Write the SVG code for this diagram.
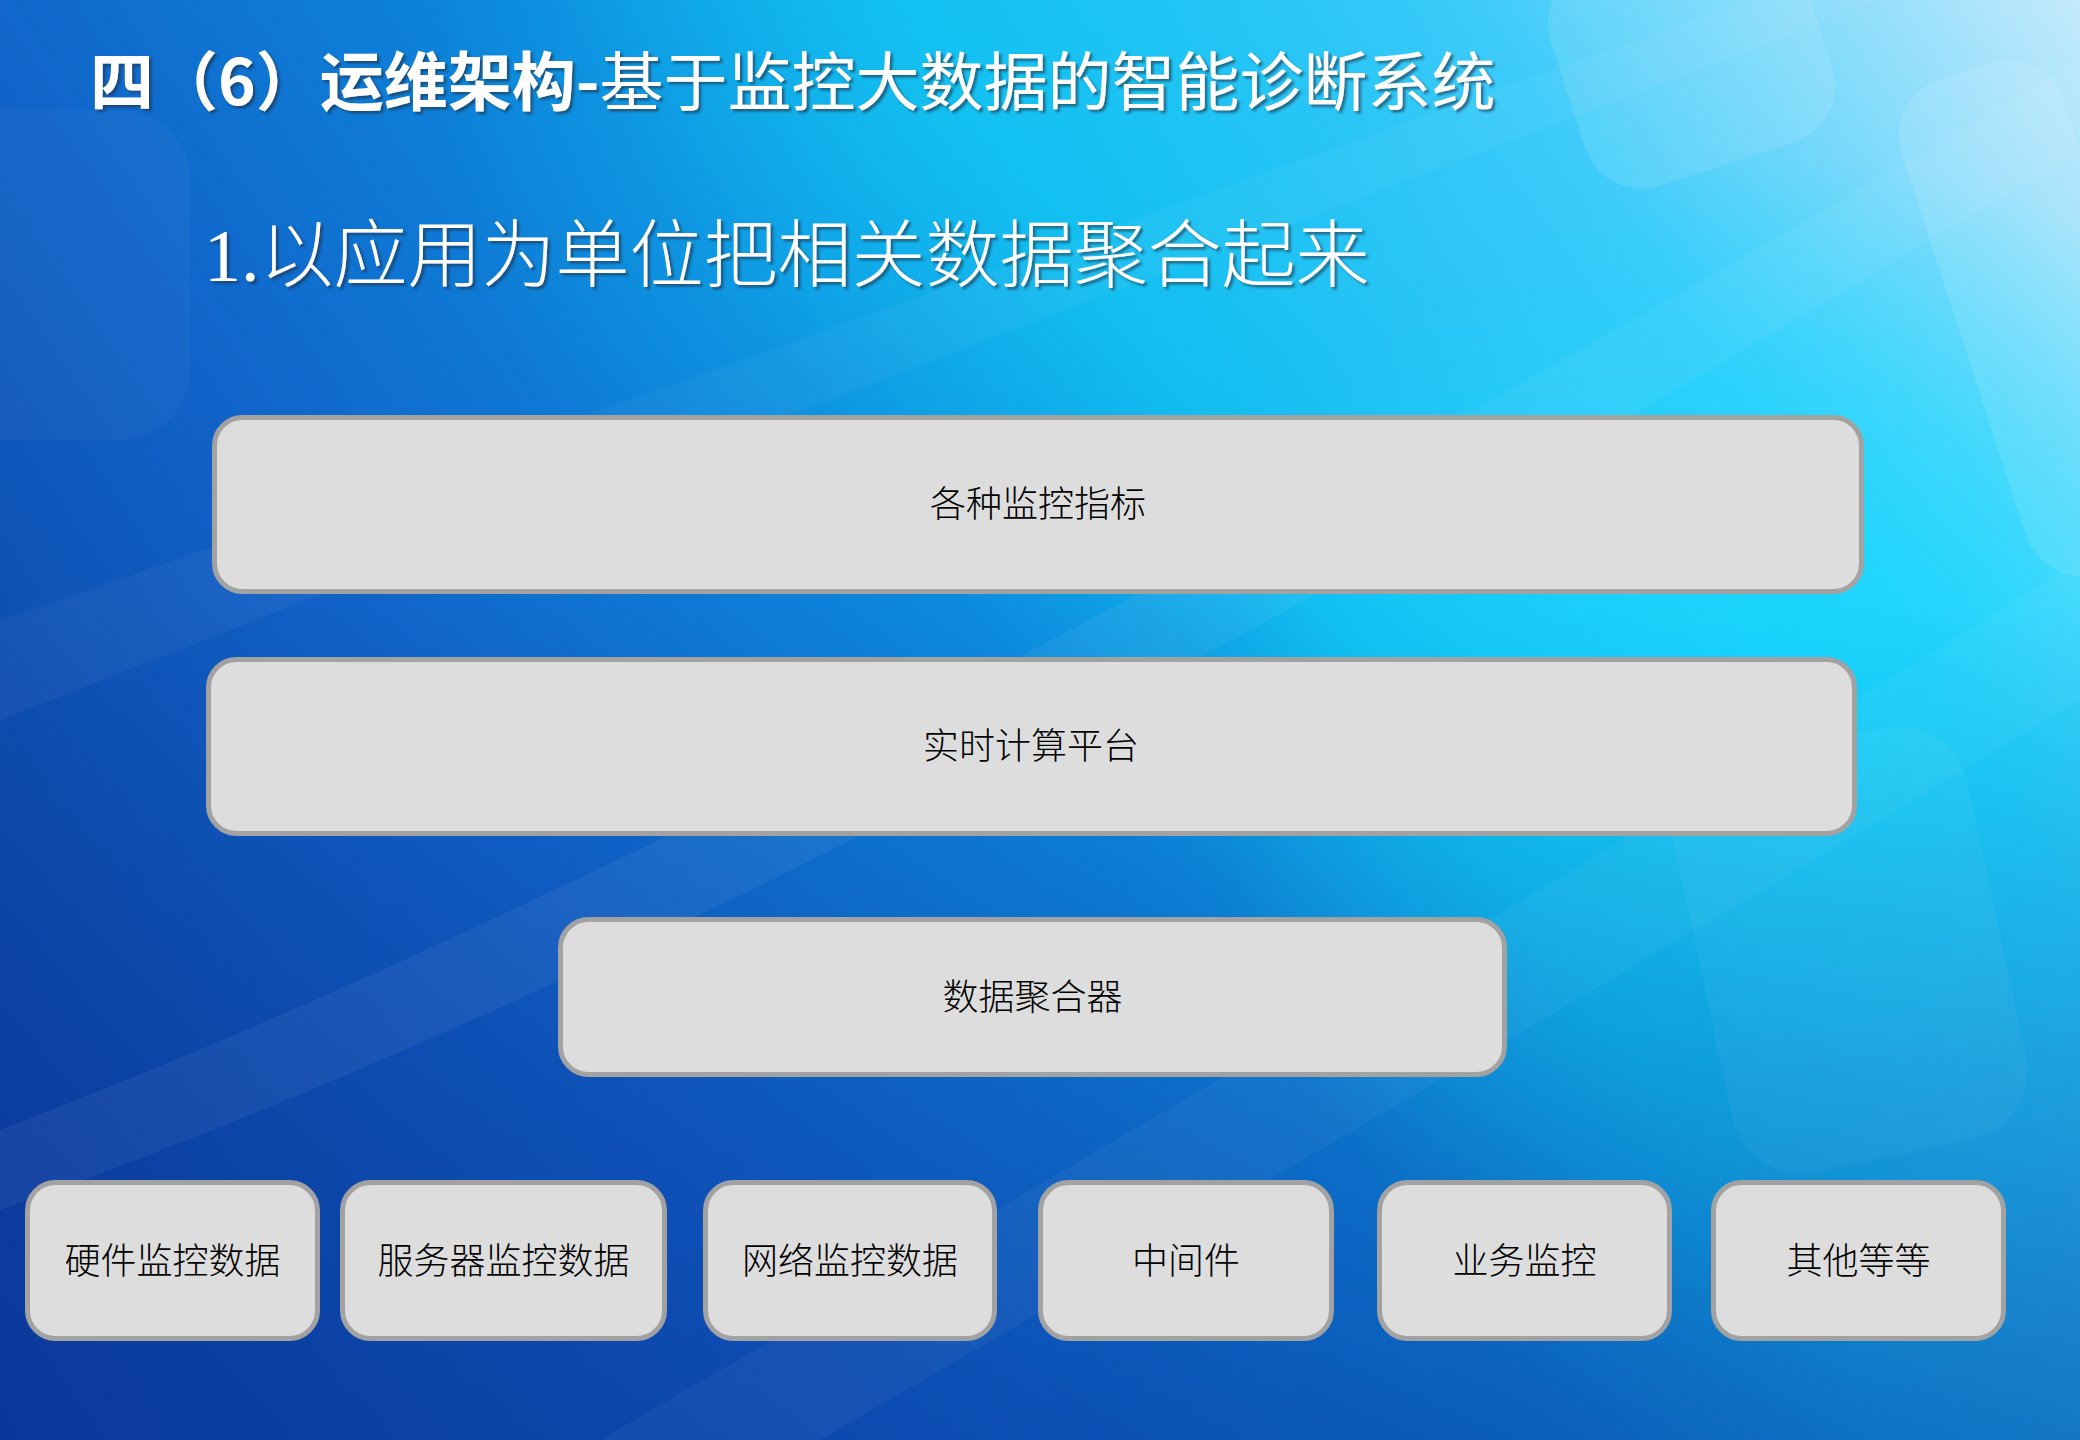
<svg xmlns="http://www.w3.org/2000/svg" width="2080" height="1440" viewBox="0 0 2080 1440">
  <defs>
    <linearGradient id="bgBase" gradientUnits="userSpaceOnUse" x1="0" y1="1440" x2="2080" y2="0">
      <stop offset="0" stop-color="#0a3592"/>
      <stop offset="0.3" stop-color="#1162c8"/>
      <stop offset="0.5" stop-color="#0c8ade"/>
      <stop offset="0.62" stop-color="#12bcf0"/>
      <stop offset="0.8" stop-color="#3ccbfa"/>
      <stop offset="1" stop-color="#c4eafc"/>
    </linearGradient>
    <linearGradient id="bgDark" gradientUnits="userSpaceOnUse" x1="0" y1="600" x2="0" y2="1440">
      <stop offset="0" stop-color="#0a3aa0" stop-opacity="0"/>
      <stop offset="1" stop-color="#0a3aa0" stop-opacity="0.55"/>
    </linearGradient>
    <radialGradient id="glowCyan" gradientUnits="userSpaceOnUse" cx="1820" cy="760" r="600">
      <stop offset="0" stop-color="#0edcff" stop-opacity="0.85"/>
      <stop offset="0.6" stop-color="#0edcff" stop-opacity="0.4"/>
      <stop offset="1" stop-color="#0edcff" stop-opacity="0"/>
    </radialGradient>
    <radialGradient id="glowTop" gradientUnits="userSpaceOnUse" cx="950" cy="80" r="520">
      <stop offset="0" stop-color="#14c8f4" stop-opacity="0.5"/>
      <stop offset="1" stop-color="#14c8f4" stop-opacity="0"/>
    </radialGradient>
    <filter id="shadow" x="-5%" y="-20%" width="110%" height="150%">
      <feDropShadow dx="2.5" dy="2.5" stdDeviation="1.2" flood-color="#1a2a40" flood-opacity="0.6"/>
    </filter>
    <style>
      .box { fill: #dddddd; stroke: #a2a2a2; stroke-width: 5; }
      .label { font-family: "Noto Sans CJK SC", "Noto Sans", sans-serif; font-size: 36px; font-weight: 300; fill: #000000; text-anchor: middle; }
      .title { font-family: "Noto Sans CJK SC", "Noto Sans", sans-serif; font-size: 64px; fill: #ffffff; }
      .subtitle { font-family: "Liberation Serif", "Noto Sans CJK SC", serif; font-size: 74px; font-weight: 300; fill: #ffffff; }
    </style>
  </defs>

  <g id="background">
    <rect x="0" y="0" width="2080" height="1440" fill="url(#bgBase)"/>
    <rect x="0" y="0" width="2080" height="1440" fill="url(#glowTop)"/>
    <rect x="0" y="0" width="2080" height="1440" fill="url(#glowCyan)"/>
    <rect x="0" y="0" width="2080" height="1440" fill="url(#bgDark)"/>
    <path d="M0 1130 C 600 900, 1300 520, 2080 60 L 2080 150 C 1350 590, 650 980, 0 1210 Z" fill="#ffffff" opacity="0.05"/>
    <path d="M0 620 C 500 450, 1100 230, 1750 0 L 1880 0 C 1200 260, 560 500, 0 720 Z" fill="#ffffff" opacity="0.04"/>
    <path d="M600 1440 C 1100 1150, 1600 860, 2080 560 L 2080 700 C 1650 960, 1200 1220, 820 1440 Z" fill="#ffffff" opacity="0.04"/>
    <rect x="1960" y="60" width="170" height="520" rx="60" transform="rotate(-18 2040 320)" fill="#ffffff" opacity="0.1"/>
    <rect x="1560" y="-60" width="260" height="230" rx="60" transform="rotate(-18 1690 50)" fill="#ffffff" opacity="0.1"/>
    <rect x="-80" y="110" width="270" height="330" rx="70" fill="#ffffff" opacity="0.03"/>
    <rect x="1700" y="740" width="300" height="420" rx="70" transform="rotate(-12 1850 950)" fill="#ffffff" opacity="0.04"/>
  </g>

  <g id="title-texts">
    <text class="title" x="90" y="105" filter="url(#shadow)"><tspan font-weight="700">四（6）运维架构-</tspan><tspan font-weight="400">基于监控大数据的智能诊断系统</tspan></text>
    <text class="subtitle" x="204" y="281" filter="url(#shadow)">1.以应用为单位把相关数据聚合起来</text>
  </g>

  <g id="connectors"></g>

  <g id="node-metrics">
    <rect class="box" x="214.5" y="417.5" width="1647" height="174" rx="28"/>
    <text class="label" x="1038" y="517">各种监控指标</text>
  </g>
  <g id="node-realtime">
    <rect class="box" x="208.5" y="659.5" width="1646" height="174" rx="28"/>
    <text class="label" x="1031" y="759">实时计算平台</text>
  </g>
  <g id="node-aggregator">
    <rect class="box" x="560.5" y="919.5" width="944" height="155" rx="28"/>
    <text class="label" x="1032.5" y="1010">数据聚合器</text>
  </g>
  <g id="node-hardware">
    <rect class="box" x="27.5" y="1182.5" width="290" height="156" rx="28"/>
    <text class="label" x="172.5" y="1274">硬件监控数据</text>
  </g>
  <g id="node-server">
    <rect class="box" x="342.5" y="1182.5" width="322" height="156" rx="28"/>
    <text class="label" x="503.5" y="1274">服务器监控数据</text>
  </g>
  <g id="node-network">
    <rect class="box" x="705.5" y="1182.5" width="289" height="156" rx="28"/>
    <text class="label" x="850" y="1274">网络监控数据</text>
  </g>
  <g id="node-middleware">
    <rect class="box" x="1040.5" y="1182.5" width="291" height="156" rx="28"/>
    <text class="label" x="1186" y="1274">中间件</text>
  </g>
  <g id="node-business">
    <rect class="box" x="1379.5" y="1182.5" width="290" height="156" rx="28"/>
    <text class="label" x="1524.5" y="1274">业务监控</text>
  </g>
  <g id="node-others">
    <rect class="box" x="1713.5" y="1182.5" width="290" height="156" rx="28"/>
    <text class="label" x="1858.5" y="1274">其他等等</text>
  </g>
</svg>
